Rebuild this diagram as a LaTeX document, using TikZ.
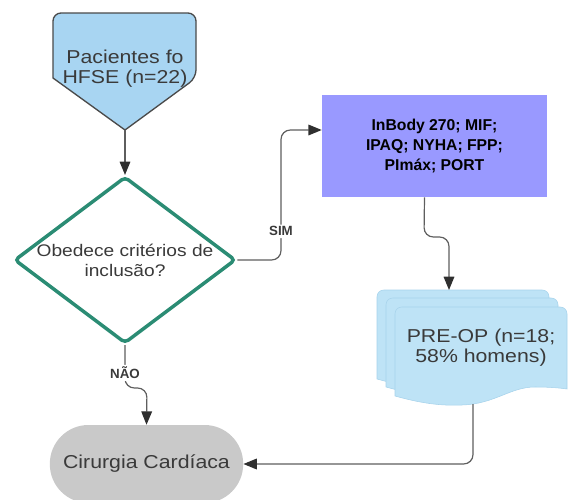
\documentclass[tikz,border=0pt]{standalone}
\usepackage{fontspec}
\setmainfont{Liberation Sans}
\newfontfamily\widesans[FakeStretch=1.14]{Liberation Sans}
\usetikzlibrary{arrows.meta,shapes.geometric}

\definecolor{pacblue}{HTML}{A8D5F2}
\definecolor{pacedge}{HTML}{4A4A4A}
\definecolor{docblue}{HTML}{BEE3F6}
\definecolor{docedge}{HTML}{A6D2EB}
\definecolor{critgreen}{HTML}{2B8C74}
\definecolor{boxpurple}{HTML}{9999FF}
\definecolor{surggray}{HTML}{C9C9C9}
\definecolor{linegray}{HTML}{5E5E5E}
\definecolor{tipgray}{HTML}{2F2F2F}
\definecolor{txtgray}{HTML}{3A3A3A}

\tikzset{
  conn/.style={draw=linegray, line width=0.9pt, rounded corners=7pt, -{Triangle[length=10pt,width=8pt,color=tipgray]}},
  lbl/.style={fill=white, text=txtgray, inner sep=1.5pt, font=\bfseries\fontsize{10}{12}\selectfont},
  bigtxt/.style={text=txtgray, align=center, font=\widesans\fontsize{14}{15}\selectfont},
  docsheet/.style={fill=docblue, draw=docedge, line width=0.4pt}
}
\newcommand{\docpage}[2]{%
  \draw[docsheet, shift={(#1,#2)}] (0,89) [rounded corners=5pt]-- (0,0) -- (172,0) [sharp corners]-- (172,82) .. controls (165,81) and (155,80) .. (140,80) .. controls (115,80) and (100,97) .. (67,98) .. controls (45,99) and (25,96) .. (0,89) -- cycle;}

\begin{document}
\begin{tikzpicture}[x=0.75pt,y=0.75pt,yscale=-1,xscale=1]
    \useasboundingbox (0,0) rectangle (569,500);
    %Shape: Off-page connector
    \coordinate (pacientestip) at (125,130);
    \draw[fill=pacblue, draw=pacedge, line width=1pt] (pacientestip) -- (53,78) [rounded corners=6pt]-- (53,13) -- (196,13) -- (196,78) [sharp corners]-- cycle;
    % Text Node
    \node[bigtxt] (pacientes) at (125,69) {Pacientes fo\\HFSE (n=22)};

    %Shape: Diamond
    \node[shape=diamond, aspect=1.33, draw=critgreen, fill=white, line width=2.6pt, rounded corners=3pt, inner sep=0pt, minimum width=166pt, minimum height=125pt, text=txtgray, align=center, font=\widesans\fontsize{12.6}{15}\selectfont] (criterio) at (125,260) {Obedece critérios de\\inclusão?};

    %Shape: Rectangle
    \node[fill=boxpurple, minimum width=168.75pt, minimum height=76.5pt, align=center, font=\bfseries\fontsize{11.8}{15}\selectfont] (medidas) at (434.5,146) {InBody 270; MIF;\\IPAQ; NYHA; FPP;\\PImáx; PORT};

    %Shape: Multiple documents
    \docpage{377}{290}
    \docpage{386}{298}
    \docpage{395}{307}
    \coordinate (docstop) at (449,290);
    \coordinate (preopbot) at (473,404);
    % Text Node
    \node[bigtxt] (preop) at (481,348) {PRE-OP (n=18;\\58\% homens)};

    %Shape: Terminator
    \node[bigtxt, fill=surggray, rounded corners=29pt, minimum width=145pt, minimum height=58.5pt] (cirurgia) at (146.5,464) {Cirurgia Cardíaca};

    %Connectors
    \draw[conn] (pacientestip) -- (criterio.north);
    \draw[conn] (criterio.east) -- (281,260) -- node[lbl,pos=0.22]{SIM} (281,130) -- ([yshift=-12pt]medidas.west);
    \draw[conn] ([xshift=-7.5pt]medidas.south) -- (424,237) -- (449,237) -- (docstop);
    \draw[conn] (preopbot) -- (473,464) -- (cirurgia.east);
    \draw[conn] (criterio.south) -- node[lbl,pos=0.65]{NÃO} (125,388) -- (147,388) -- (cirurgia.north);
\end{tikzpicture}
\end{document}
